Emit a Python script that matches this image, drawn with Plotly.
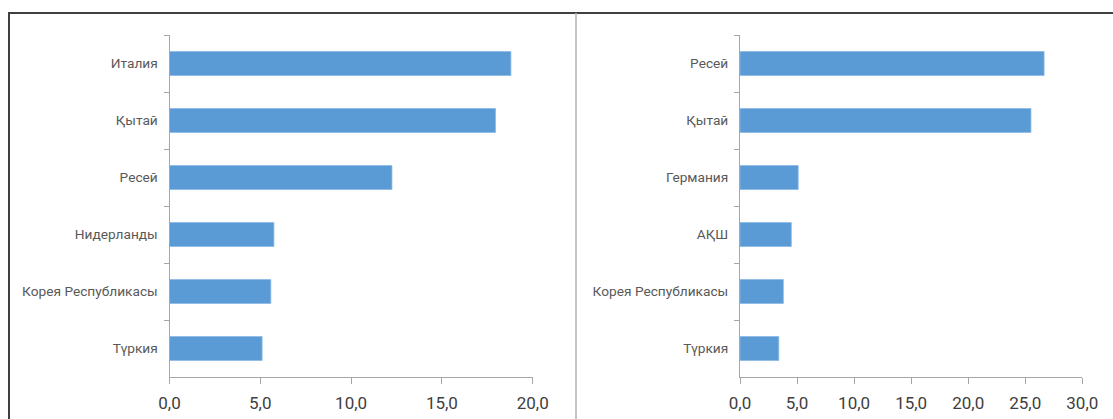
import plotly.graph_objects as go
from plotly.subplots import make_subplots

left_categories = ["Италия", "Қытай", "Ресей", "Нидерланды", "Корея Республикасы", "Түркия"]
left_values = [18.8, 17.95, 12.25, 5.75, 5.58, 5.1]

right_categories = ["Ресей", "Қытай", "Германия", "АҚШ", "Корея Республикасы", "Түркия"]
right_values = [26.65, 25.5, 5.1, 4.5, 3.8, 3.4]

left_ticks = [0, 5, 10, 15, 20]
right_ticks = [0, 5, 10, 15, 20, 25, 30]

W, H = 1113, 419
BAR = "#5B9BD5"
AX = "#a6a6a6"

fig = make_subplots(rows=1, cols=2)
fig.add_trace(go.Bar(y=left_categories, x=left_values, orientation="h",
                     marker=dict(color=BAR, line=dict(color="#8cb9e4", width=0.8)),
                     hoverinfo="x+y"), row=1, col=1)
fig.add_trace(go.Bar(y=right_categories, x=right_values, orientation="h",
                     marker=dict(color=BAR, line=dict(color="#8cb9e4", width=0.8)),
                     hoverinfo="x+y"), row=1, col=2)

ydom = [(H - 377) / H, (H - 35) / H]
xaxis_common = dict(showline=True, linecolor=AX, linewidth=1, ticks="outside",
                    ticklen=6, tickcolor=AX, showgrid=False, zeroline=False,
                    automargin=False, ticklabelstandoff=5,
                    tickformat=".1f", tickfont=dict(family="Roboto", size=17, color="#404040"))
yaxis_common = dict(showline=True, linecolor=AX, linewidth=1, ticks="outside",
                    ticklen=5, tickcolor=AX, showgrid=False, tickson="boundaries",
                    autorange="reversed", ticklabelstandoff=8, automargin=False,
                    tickfont=dict(family="Roboto", size=13.7, color="#595959"))

fig.update_xaxes(domain=[169.5 / W, 532.7 / W], range=[0, 20], tickvals=left_ticks,
                 **xaxis_common, row=1, col=1)
fig.update_xaxes(domain=[740 / W, 1082.3 / W], range=[0, 30], tickvals=right_ticks,
                 **xaxis_common, row=1, col=2)
fig.update_yaxes(domain=ydom, **yaxis_common, row=1, col=1)
fig.update_yaxes(domain=ydom, **yaxis_common, row=1, col=2)

shapes = [
    dict(type="line", xref="paper", yref="paper", x0=8 / W, x1=1, y0=(H - 13) / H, y1=(H - 13) / H,
         line=dict(color="#404040", width=2)),
    dict(type="line", xref="paper", yref="paper", x0=9 / W, x1=9 / W, y0=0, y1=(H - 13) / H,
         line=dict(color="#404040", width=2)),
    dict(type="line", xref="paper", yref="paper", x0=576 / W, x1=576 / W, y0=0, y1=(H - 13) / H,
         line=dict(color="#b0b0b0", width=1.5)),
]

fig.update_layout(width=W, height=H, margin=dict(l=0, r=0, t=0, b=0, autoexpand=False),
                  paper_bgcolor="white", plot_bgcolor="white", showlegend=False,
                  bargap=0.58, separators=",.", shapes=shapes,
                  font=dict(family="Roboto"))

fig.write_html("out.html")
